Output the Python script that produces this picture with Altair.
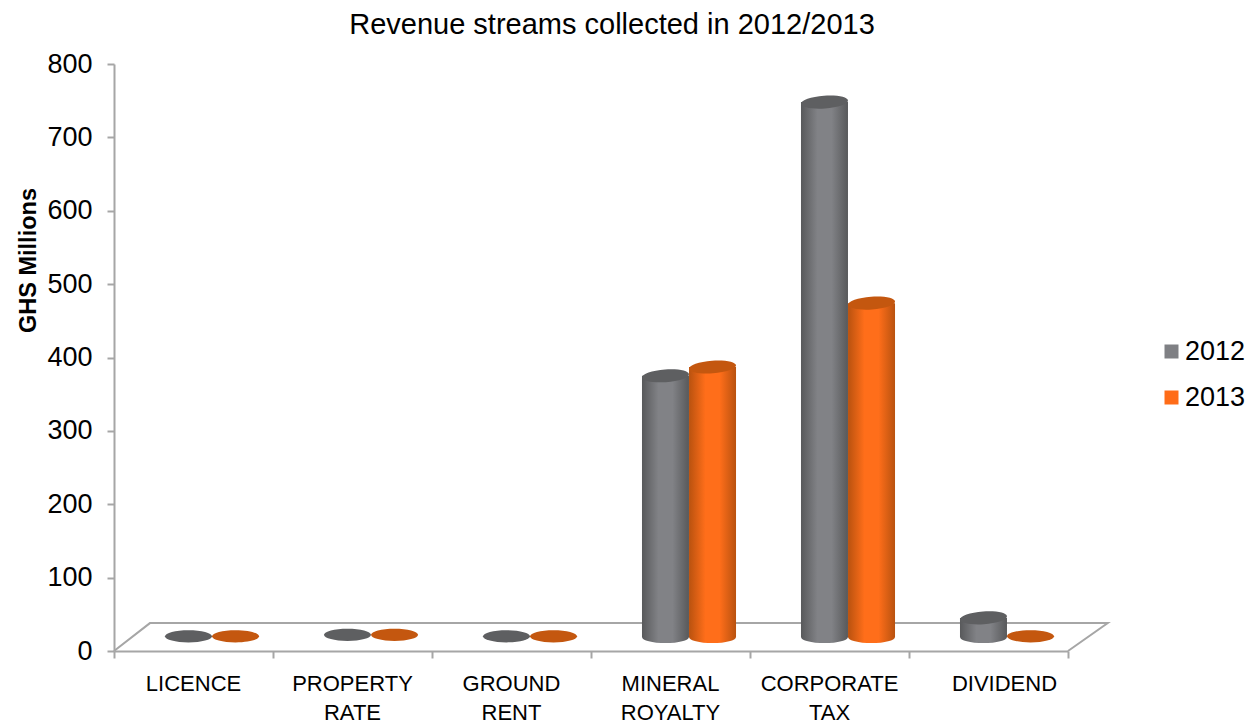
import altair as alt
import pandas as pd

categories = ["LICENCE", "PROPERTY RATE", "GROUND RENT", "MINERAL ROYALTY", "CORPORATE TAX", "DIVIDEND"]
series_2012 = [1, 3, 1, 356, 729, 26]
series_2013 = [1, 3, 1, 368, 455, 1]
years = ["2012", "2013"]
floor_x = [0, 0.226, 6.25, 6]
floor_y = [0, 38, 38, 0]
y_ticks = [0, 100, 200, 300, 400, 500, 600, 700, 800]

rows = []
for c, a, b in zip(categories, series_2012, series_2013):
    rows.append({"cat": c, "year": "2012", "value": a})
    rows.append({"cat": c, "year": "2013", "value": b})
df = pd.DataFrame(rows)
floor = pd.DataFrame({"x": floor_x, "y": floor_y, "o": list(range(len(floor_x)))})
cats_df = pd.DataFrame({"cat": categories})

GRAY_AX = "#a6a6a6"
FONT = "Liberation Sans"
DY = -14
BAR_W = 47
ELLIPSE = "M-1,0.07A1,0.27,-4,1,1,1,-0.07A1,0.27,-4,1,1,-1,0.07Z"
FLAT = "M-1,0A1,0.26,0,1,1,1,0A1,0.26,0,1,1,-1,0Z"


def grad(edge, mid):
    return alt.Gradient(
        gradient="linear", x1=0, x2=1, y1=0, y2=0,
        stops=[
            alt.GradientStop(offset=0, color=edge),
            alt.GradientStop(offset=0.35, color=mid),
            alt.GradientStop(offset=0.65, color=mid),
            alt.GradientStop(offset=1, color=edge),
        ],
    )


GRAD = {
    "2012": grad("#58595b", "#818286"),
    "2013": grad("#b9520f", "#ff6e1a"),
}
CAP = {"2012": "#5e5f61", "2013": "#c4570f"}

y_scale = alt.Scale(domain=[0, 800], nice=False)
y_axis = alt.Axis(
    title="GHS Millions", values=y_ticks, titleFont=FONT,
    titleFontSize=23.5, titleFontWeight="bold", titleColor="#000000", titleX=-74, titleY=196,
    labelFontSize=27, labelFont=FONT, labelColor="#000000", labelPadding=15,
    tickColor=GRAY_AX, tickWidth=2, tickSize=7, domainColor=GRAY_AX,
    domainWidth=2, grid=False,
)
x_scale = alt.Scale(domain=categories, paddingInner=0, paddingOuter=0)
off_scale = alt.Scale(domain=years, paddingInner=0, paddingOuter=0.69, align=0.785)
x_hidden = alt.X("cat:N", scale=x_scale, axis=None, sort=categories)
x_off = alt.XOffset("year:N", scale=off_scale)


def y_field(field):
    return alt.Y(field, scale=y_scale, axis=y_axis)


layers = []

axes_layer = alt.Chart(df).mark_square(size=0).encode(
    x=alt.X(
        "cat:N", scale=x_scale, sort=categories, title=None,
        axis=alt.Axis(
            tickBand="extent", labels=False, tickColor=GRAY_AX, tickWidth=2,
            tickSize=7, domainColor=GRAY_AX, domainWidth=2, grid=False,
        ),
    ),
    y=y_field("value:Q"),
    color=alt.Color(
        "year:N",
        scale=alt.Scale(domain=years, range=["#7f8084", "#ff6c18"]),
        legend=alt.Legend(
            title=None, orient="none", legendX=1044, legendY=274, symbolType="square",
            symbolSize=196, symbolStrokeWidth=0, symbolOpacity=1, labelFontSize=27,
            labelFont=FONT, labelColor="#000000", rowPadding=18, labelOffset=0,
        ),
    ),
)
layers.append(axes_layer)

floor_layer = alt.Chart(floor).mark_line(color=GRAY_AX, strokeWidth=2).encode(
    x=alt.X("x:Q", scale=alt.Scale(domain=[0, 6], nice=False, zero=False), axis=None),
    y=y_field("y:Q"),
    order="o:O",
)
layers.append(floor_layer)

for yr in years:
    sub = alt.Chart(df).transform_filter(alt.datum.year == yr)
    base_ell = sub.mark_point(
        shape=FLAT, size=BAR_W ** 2, filled=True, opacity=1, color=GRAD[yr], yOffset=DY,
    ).transform_filter(alt.datum.value > 5).encode(
        x=x_hidden, xOffset=x_off,
        y=y_field("zero:Q"),
    ).transform_calculate(zero="0")
    body = sub.mark_bar(
        color=GRAD[yr], width=BAR_W, yOffset=DY, y2Offset=DY,
    ).transform_filter(alt.datum.value > 5).encode(
        x=x_hidden, xOffset=x_off,
        y=y_field("value:Q"),
        y2=alt.Y2(datum=0),
    )
    cap = sub.mark_point(
        shape=ELLIPSE, size=BAR_W ** 2, filled=True, opacity=1, color=CAP[yr], yOffset=DY,
    ).transform_filter(alt.datum.value > 5).encode(
        x=x_hidden, xOffset=x_off,
        y=y_field("value:Q"),
    )
    flat_cap = sub.mark_point(
        shape=FLAT, size=BAR_W ** 2, filled=True, opacity=1, color=CAP[yr], yOffset=DY,
    ).transform_filter(alt.datum.value <= 5).encode(
        x=x_hidden, xOffset=x_off,
        y=y_field("value:Q"),
    )
    layers += [base_ell, body, cap, flat_cap]

label_style = dict(
    font=FONT, fontSize=22, color="#000000", align="center", baseline="top",
    lineBreak=" ", lineHeight=29, dy=23,
)
y_zero = alt.Y(datum=0, scale=y_scale, axis=y_axis)
labels_main = alt.Chart(cats_df).transform_filter(alt.datum.cat != "DIVIDEND").mark_text(
    **label_style
).encode(x=x_hidden, y=y_zero, text="cat:N")
labels_last = alt.Chart(cats_df).transform_filter(alt.datum.cat == "DIVIDEND").mark_text(
    dx=16, **label_style
).encode(x=x_hidden, y=y_zero, text="cat:N")
layers += [labels_main, labels_last]

chart = (
    alt.layer(*layers)
    .resolve_scale(x="independent")
    .properties(
        width=954, height=587,
        title=alt.TitleParams(
            "Revenue streams collected in 2012/2013", fontSize=29, font=FONT,
            fontWeight="normal", color="#000000", anchor="middle", dx=21, offset=10,
        ),
        autosize=alt.AutoSizeParams(type="none"),
        padding={"left": 106, "top": 56, "right": 177, "bottom": 75},
    )
    .configure_view(stroke=None)
)

chart.save("out.html", embed_options={"renderer": "svg", "actions": False})
